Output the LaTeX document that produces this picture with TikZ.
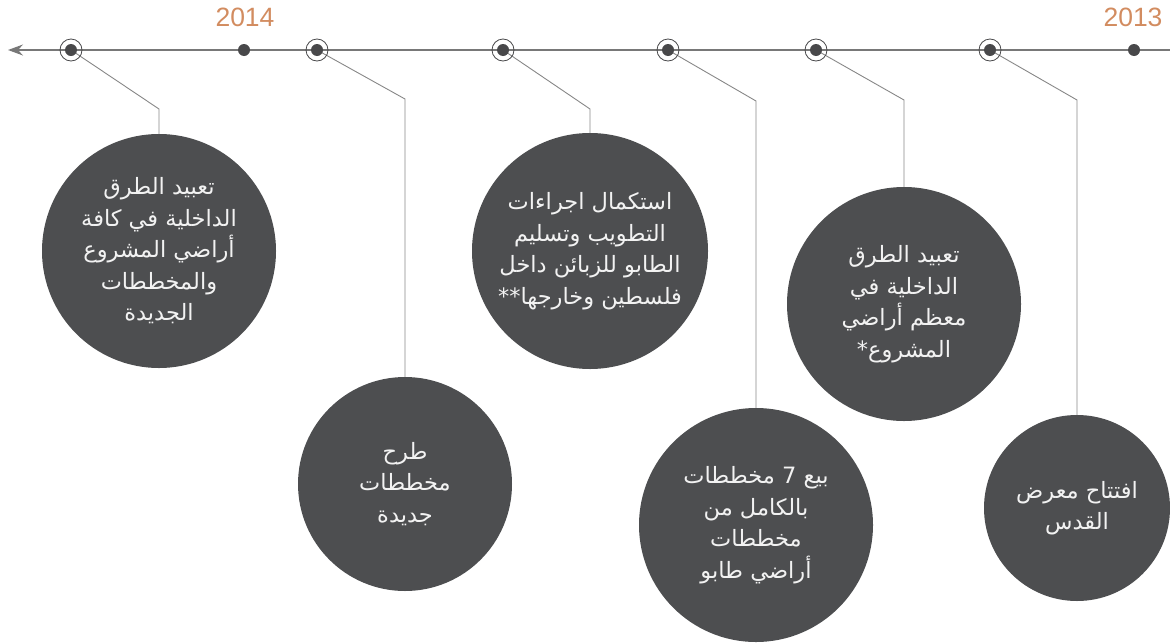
\documentclass[tikz,border=0pt]{standalone}
\usepackage{fontspec}
\usetikzlibrary{arrows.meta}
\TeXXeTstate=1
\newfontfamily\arabicfont[Script=Arabic]{DejaVu Sans}
\newfontfamily\yearfont{Liberation Sans}
\definecolor{bubblefill}{RGB}{77,78,80}
\definecolor{bubbletext}{RGB}{242,242,242}
\definecolor{axisgray}{RGB}{120,120,120}
\definecolor{conngray}{RGB}{135,135,135}
\definecolor{dotfill}{RGB}{72,72,74}
\definecolor{yearcol}{RGB}{210,140,96}
\tikzset{
  bubble/.style={circle, fill=bubblefill, draw=none, inner sep=0pt, align=center,
    text=bubbletext, font=\arabicfont\fontsize{22.5}{31.5}\selectfont},
  axisline/.style={draw=axisgray, line width=1.4pt, -{Stealth[length=15pt,width=11pt,inset=5pt]}},
  conn/.style={draw=conngray, line width=0.9pt},
  ringmark/.style={circle, draw=dotfill, line width=0.8pt, minimum size=22pt, inner sep=0pt},
  dotmark/.style={circle, fill=dotfill, minimum size=12pt, inner sep=0pt},
  yearlbl/.style={text=yearcol, font=\yearfont\fontsize{26.5}{26.5}\selectfont, inner sep=0pt}
}
\begin{document}
\begin{tikzpicture}[x=1pt,y=-1pt]
\useasboundingbox (0,0) rectangle (1170,643);
% axis
\coordinate (tend) at (1170,50);
\coordinate (tip) at (8,50);
\draw[axisline] (tend) -- (tip);
% year labels
\node[yearlbl] (y14) at (245,17) {2014};
\node[yearlbl] (y13) at (1133,17) {2013};
% bubbles
\node[bubble, minimum size=234pt] (c1) at (159,251) {\beginR تعبيد الطرق\endR\\\beginR الداخلية في كافة\endR\\\beginR أراضي المشروع\endR\\\beginR والمخططات\endR\\\beginR الجديدة\endR};
\node[bubble, minimum size=214pt] (c2) at (405,484) {\beginR طرح\endR\\\beginR مخططات\endR\\\beginR جديدة\endR};
\node[bubble, minimum size=236pt] (c3) at (590,251) {\beginR استكمال اجراءات\endR\\\beginR التطويب وتسليم\endR\\\beginR الطابو للزبائن داخل\endR\\\beginR فلسطين وخارجها**\endR};
\node[bubble, minimum size=234pt] (c4) at (756,525) {\beginR بيع \beginL 7\endL{} مخططات\endR\\\beginR بالكامل من\endR\\\beginR مخططات\endR\\\beginR أراضي طابو\endR};
\node[bubble, minimum size=234pt] (c5) at (904,304) {\beginR تعبيد الطرق\endR\\\beginR الداخلية في\endR\\\beginR معظم أراضي\endR\\\beginR المشروع*\endR};
\node[bubble, minimum size=186pt] (c6) at (1077,508) {\beginR افتتاح معرض\endR\\\beginR القدس\endR};
% bends
\coordinate (b1) at (159,109);
\coordinate (b2) at (405,99);
\coordinate (b3) at (590,109);
\coordinate (b4) at (756,101);
\coordinate (b5) at (904,100);
\coordinate (b6) at (1077,100);
% marker positions
\coordinate (p1) at (71,50);
\coordinate (p2) at (317,50);
\coordinate (p3) at (503,50);
\coordinate (p4) at (668,50);
\coordinate (p5) at (816,50);
\coordinate (p6) at (990,50);
% connectors
\draw[conn] (p1) -- (b1) -- (c1.north);
\draw[conn] (p2) -- (b2) -- (c2.north);
\draw[conn] (p3) -- (b3) -- (c3.north);
\draw[conn] (p4) -- (b4) -- (c4.north);
\draw[conn] (p5) -- (b5) -- (c5.north);
\draw[conn] (p6) -- (b6) -- (c6.north);
% markers
\node[ringmark] (r1) at (p1) {};
\node[ringmark] (r2) at (p2) {};
\node[ringmark] (r3) at (p3) {};
\node[ringmark] (r4) at (p4) {};
\node[ringmark] (r5) at (p5) {};
\node[ringmark] (r6) at (p6) {};
\node[dotmark] (m1) at (p1) {};
\node[dotmark] (m2) at (p2) {};
\node[dotmark] (m3) at (p3) {};
\node[dotmark] (m4) at (p4) {};
\node[dotmark] (m5) at (p5) {};
\node[dotmark] (m6) at (p6) {};
\node[dotmark] (d14) at (244,50) {};
\node[dotmark] (d13) at (1134,50) {};
\end{tikzpicture}
\end{document}
